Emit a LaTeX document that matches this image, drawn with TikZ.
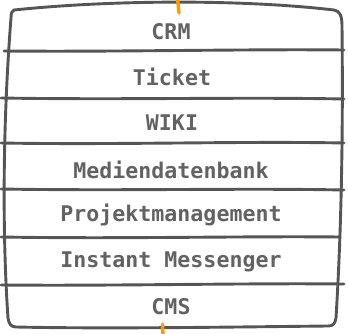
\documentclass[tikz,border=0pt]{standalone}
\usepackage{fontspec}
\setmonofont{DejaVu Sans Mono}
\definecolor{linegray}{HTML}{555555}
\definecolor{textgray}{HTML}{626262}
\definecolor{orangeline}{HTML}{FF9A00}
\tikzset{
  rough/.style={draw=linegray, line width=2.9pt, line cap=round, line join=round},
  layerlabel/.style={text=textgray, font=\ttfamily\bfseries\fontsize{21.6}{25}\selectfont, inner sep=0pt, anchor=center},
  cord/.style={draw=orangeline, line width=3.4pt, line cap=round}
}
\begin{document}
\begin{tikzpicture}[x=1pt,y=-1pt]
\useasboundingbox (0,0) rectangle (348,334);
% outer hand-drawn shape
\path[rough] (14,10) .. controls (110,0) and (240,-1) .. (334,10)
  .. controls (340,11) and (342,16) .. (342,26)
  .. controls (343,120) and (342,220) .. (336,318)
  .. controls (335,324) and (333,326) .. (328,326)
  .. controls (230,327) and (110,329) .. (16,327)
  .. controls (11,327) and (9,324) .. (8,318)
  .. controls (2,230) and (3,120) .. (11,18)
  .. controls (11,13) and (12,11) .. (14,10) -- cycle;
% separators
\path[rough] (4,51) .. controls (120,52) and (240,49) .. (344,50);
\path[rough] (1,98) .. controls (120,100) and (240,97) .. (344,99);
\path[rough] (1,143) .. controls (120,145) and (240,141) .. (344,143);
\path[rough] (1,189) .. controls (120,191) and (240,188) .. (344,190);
\path[rough] (1,237) .. controls (120,239) and (240,236) .. (340,237);
\path[rough] (1,285) .. controls (120,286) and (240,283) .. (344,284);
% labels
\node[layerlabel] (crm) at (171,32) {CRM};
\node[layerlabel] (ticket) at (172,77) {Ticket};
\node[layerlabel] (wiki) at (172,123) {WIKI};
\node[layerlabel] (medien) at (171,170) {Mediendatenbank};
\node[layerlabel] (projekt) at (171,215) {Projektmanagement};
\node[layerlabel] (im) at (171,262) {Instant Messenger};
\node[layerlabel] (cms) at (171,307) {CMS};
% orange cords
\coordinate (ta) at (177.5,-2);
\coordinate (tb) at (179,13);
\coordinate (ba) at (162.5,324);
\coordinate (bb) at (163,336);
\draw[cord] (ta) -- (tb);
\draw[cord] (ba) -- (bb);
\end{tikzpicture}
\end{document}
